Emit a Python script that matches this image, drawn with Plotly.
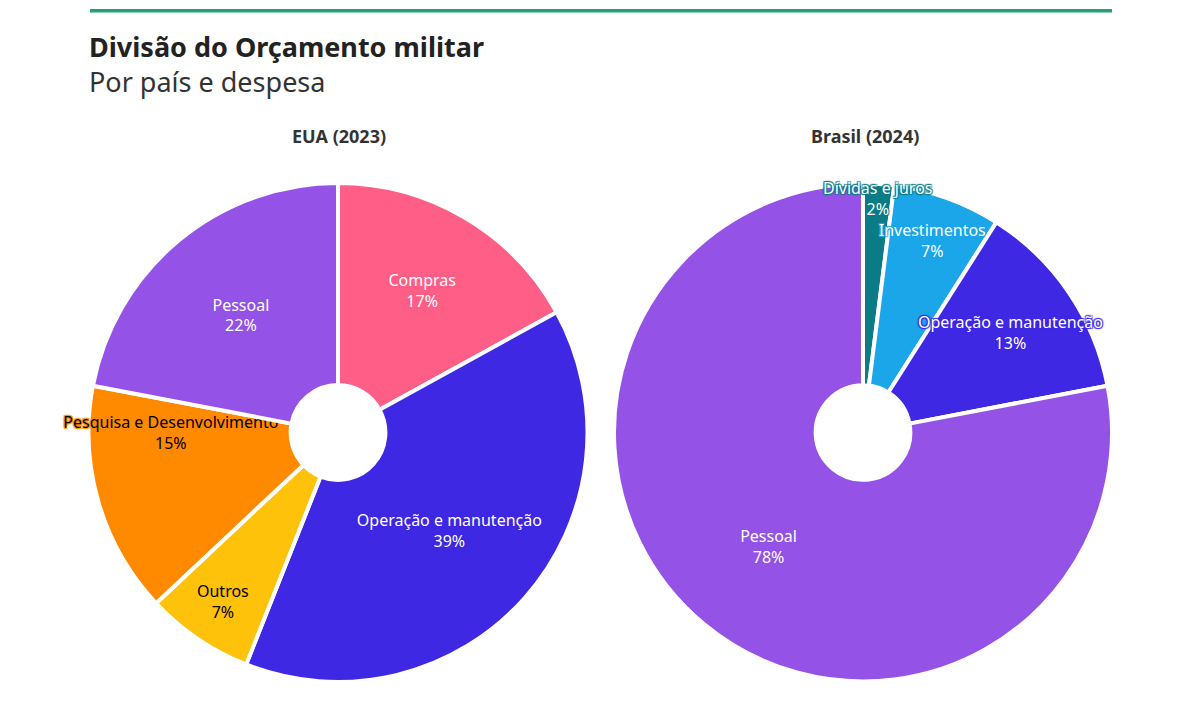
import plotly.graph_objects as go

# Dados (em % do orçamento)
eua_labels = ["Compras", "Operação e manutenção", "Outros", "Pesquisa e Desenvolvimento", "Pessoal"]
eua_values = [17, 39, 7, 15, 22]
eua_colors = ["#FF5E86", "#3F28E4", "#FFC20A", "#FF8A00", "#9453E6"]
eua_text = ["white", "white", "black", "black", "white"]

br_labels = ["Dívidas e juros", "Investimentos", "Operação e manutenção", "Pessoal"]
br_values = [2, 7, 13, 78]
br_colors = ["#0B7C85", "#1BA6EA", "#3F28E4", "#9453E6"]
br_text = ["white", "white", "white", "white"]

FONT = "Noto Sans, Arial, sans-serif"


def halo(c):
    # contorno da cor da fatia, como no original
    return f"1px 1px 1px {c}, -1px -1px 1px {c}, 1px -1px 1px {c}, -1px 1px 1px {c}"


fig = go.Figure()

# EUA
fig.add_trace(go.Pie(
    labels=eua_labels, values=eua_values, sort=False,
    direction="clockwise", rotation=0, hole=0.19,
    marker=dict(colors=eua_colors, line=dict(color="white", width=4)),
    textinfo="label+percent", textposition="inside",
    insidetextorientation="horizontal",
    textfont=dict(family=FONT, size=16, color=eua_text,
                  shadow=[halo(c) for c in eua_colors]),
    domain=dict(x=[0.0667, 0.4833], y=[0.0494, 0.7532]),
    showlegend=False, name="EUA (2023)"
))

# Brasil: fatias sem texto...
fig.add_trace(go.Pie(
    labels=br_labels, values=br_values, sort=False,
    direction="clockwise", rotation=0, hole=0.19,
    marker=dict(colors=br_colors, line=dict(color="white", width=4)),
    textinfo="none",
    domain=dict(x=[0.505, 0.92], y=[0.0494, 0.7532]),
    showlegend=False, name="Brasil (2024)"
))
# ...e os rótulos numa camada transparente por cima (para não serem cortados)
fig.add_trace(go.Pie(
    labels=br_labels, values=br_values, sort=False,
    direction="clockwise", rotation=0, hole=0.19,
    marker=dict(colors=["rgba(0,0,0,0)"] * len(br_values), line=dict(width=0)),
    textinfo="label+percent", textposition="inside",
    insidetextorientation="horizontal",
    textfont=dict(family=FONT, size=16, color=br_text,
                  shadow=[halo(c) for c in br_colors]),
    domain=dict(x=[0.505, 0.92], y=[0.0494, 0.7532]),
    hoverinfo="skip", showlegend=False
))

fig.update_layout(
    width=1200, height=709,
    margin=dict(l=0, r=0, t=0, b=0),
    paper_bgcolor="white",
    font=dict(family=FONT, color="#333333"),
    uniformtext=dict(minsize=16, mode="show"),
    shapes=[dict(type="line", xref="paper", yref="paper",
                 x0=0.0683, x1=0.92, y0=0.996, y1=0.996,
                 line=dict(color="#22A07A", width=3.5))],
    annotations=[
        dict(text="<b>Divisão do Orçamento militar</b>", xref="paper", yref="paper",
             x=0.066, y=0.946, xanchor="left", yanchor="middle", showarrow=False,
             font=dict(size=27, color="#222222", family=FONT)),
        dict(text="Por país e despesa", xref="paper", yref="paper",
             x=0.066, y=0.896, xanchor="left", yanchor="middle", showarrow=False,
             font=dict(size=27, color="#333333", family=FONT)),
        dict(text="<b>EUA (2023)</b>", xref="paper", yref="paper",
             x=0.2758, y=0.8195, xanchor="center", yanchor="middle", showarrow=False,
             font=dict(size=18, color="#333333", family=FONT)),
        dict(text="<b>Brasil (2024)</b>", xref="paper", yref="paper",
             x=0.714, y=0.8195, xanchor="center", yanchor="middle", showarrow=False,
             font=dict(size=18, color="#333333", family=FONT)),
    ],
)

fig.write_html("out.html")
